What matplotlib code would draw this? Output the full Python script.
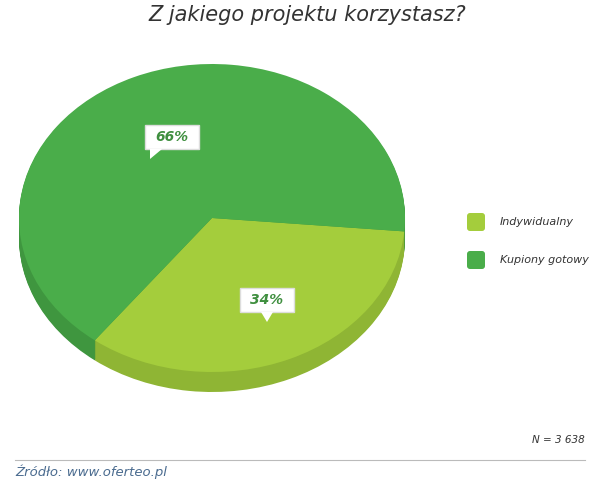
import matplotlib
matplotlib.use("Agg")
import matplotlib.pyplot as plt
from matplotlib.patches import Wedge, FancyBboxPatch, Polygon
from matplotlib.transforms import Affine2D

labels = ["Indywidualny", "Kupiony gotowy"]
values = [34, 66]
colors = ["#a4cd3c", "#4aad4a"]
side_colors = ["#8fb534", "#3f963f"]
title = "Z jakiego projektu korzystasz?"

fig = plt.figure(figsize=(6.15, 4.82), dpi=100)
ax = fig.add_axes([0, 0, 1, 1])
ax.set_xlim(0, 615); ax.set_ylim(482, 0); ax.axis("off")

cx, cy, rx, ry, depth = 212, 218, 193, 154, 20
tr = Affine2D().scale(rx, -ry).translate(cx, cy) + ax.transData
start = -5
angles = []
a = start
for v in values:
    span = 360 * v / sum(values)
    angles.append((a - span, a))
    a -= span
for d in range(depth, 0, -1):
    t = Affine2D().scale(rx, -ry).translate(cx, cy + d) + ax.transData
    for (t1, t2), c in zip(angles, side_colors):
        ax.add_patch(Wedge((0, 0), 1, t1, t2, facecolor=c, edgecolor="none", transform=t))
for (t1, t2), c in zip(angles, colors):
    ax.add_patch(Wedge((0, 0), 1, t1, t2, facecolor=c, edgecolor="none", transform=tr))

def callout(x, y, text, up):
    ax.add_patch(FancyBboxPatch((x - 27, y - 12), 54, 24, boxstyle="square,pad=0",
                                facecolor="white", edgecolor="#dddddd", zorder=5))
    if up:
        ax.add_patch(Polygon([(x - 22, y + 12), (x - 10, y + 12), (x - 22, y + 22)], facecolor="white", edgecolor="none", zorder=5))
    else:
        ax.add_patch(Polygon([(x - 6, y + 12), (x + 6, y + 12), (x, y + 22)], facecolor="white", edgecolor="none", zorder=5))
    ax.text(x, y, text, ha="center", va="center", fontsize=10, fontweight="bold",
            style="italic", color="#3f8f3f", zorder=6)

callout(172, 137, f"{values[1]}%", True)
callout(267, 300, f"{values[0]}%", False)

for i, (lab, c) in enumerate(zip(labels, colors)):
    y = 222 + 38 * i
    ax.add_patch(FancyBboxPatch((467, y - 9), 18, 18, boxstyle="round,pad=0,rounding_size=3",
                                facecolor=c, edgecolor="none"))
    ax.text(500, y, lab, ha="left", va="center", fontsize=8, style="italic", color="#333333")

ax.text(307, 15, title, ha="center", va="center", fontsize=15, style="italic", color="#333333")
ax.text(585, 440, "N = 3 638", ha="right", va="center", fontsize=7.5, style="italic", color="#333333")
ax.plot([15, 585], [460, 460], color="#bbbbbb", lw=0.8)
ax.text(15, 472, "Źródło: www.oferteo.pl", ha="left", va="center", fontsize=9.5,
        style="italic", color="#4a6b8f")
fig.savefig("out.png", dpi=100)
